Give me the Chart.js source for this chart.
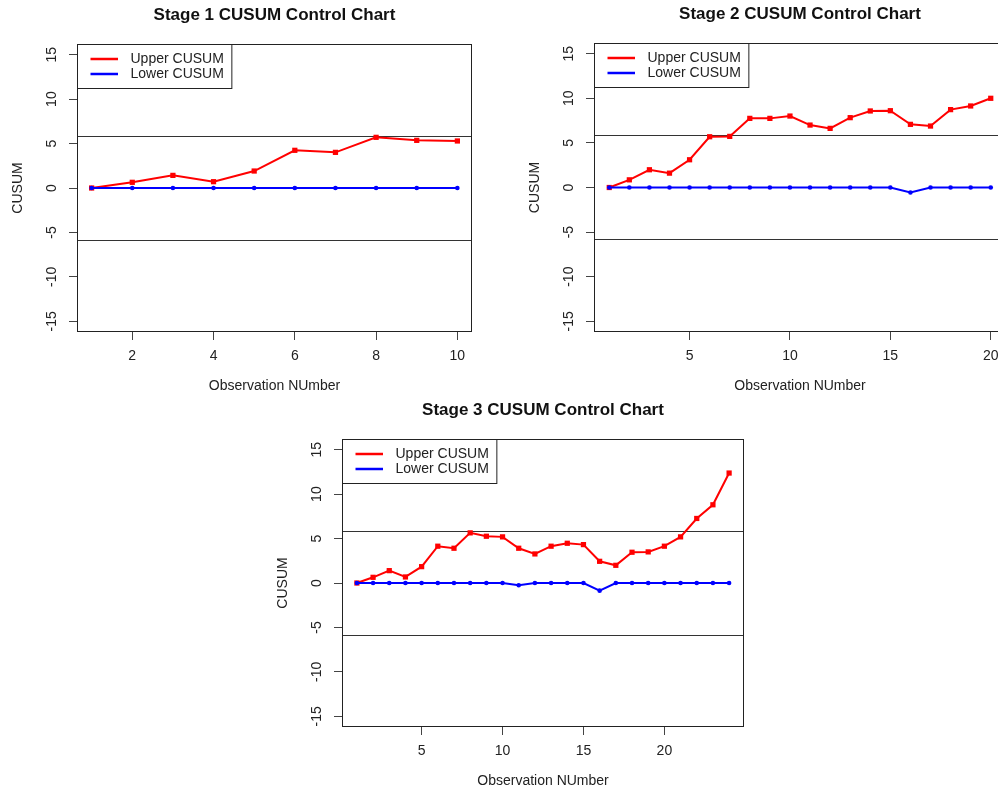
<!DOCTYPE html>
<html>
<head>
<meta charset="utf-8">
<script src="https://cdn.jsdelivr.net/npm/chart.js@4.4.1/dist/chart.umd.min.js"></script>
<style>
  html, body { margin: 0; padding: 0; background: #fff; overflow: hidden; width: 998px; height: 789px; }
  canvas { position: absolute; }
</style>
</head>
<body>
<canvas id="stage1"></canvas>
<canvas id="stage2"></canvas>
<canvas id="stage3"></canvas>
<script>
// ---- data ----
const yTicks = [-15, -10, -5, 0, 5, 10, 15];

const stage1Obs    = [1, 2, 3, 4, 5, 6, 7, 8, 9, 10];
const stage1Upper  = [0, 0.64, 1.42, 0.71, 1.91, 4.24, 4.01, 5.70, 5.36, 5.29];
const stage1Lower  = [0, 0, 0, 0, 0, 0, 0, 0, 0, 0];
const stage1Limits = [5.88, -5.82];
const stage1XTicks = [2, 4, 6, 8, 10];

const stage2Obs    = [1, 2, 3, 4, 5, 6, 7, 8, 9, 10, 11, 12, 13, 14, 15, 16, 17, 18, 19, 20];
const stage2Upper  = [0, 0.86, 1.99, 1.61, 3.11, 5.69, 5.73, 7.75, 7.75, 8.01, 7.00, 6.63, 7.83, 8.58, 8.61, 7.08, 6.89, 8.73, 9.14, 10.0];
const stage2Lower  = [0, 0, 0, 0, 0, 0, 0, 0, 0, 0, 0, 0, 0, 0, 0, -0.56, 0, 0, 0, 0];
const stage2Limits = [5.84, -5.80];
const stage2XTicks = [5, 10, 15, 20];

const stage3Obs    = [1, 2, 3, 4, 5, 6, 7, 8, 9, 10, 11, 12, 13, 14, 15, 16, 17, 18, 19, 20, 21, 22, 23, 24];
const stage3Upper  = [0, 0.64, 1.39, 0.68, 1.84, 4.14, 3.91, 5.64, 5.26, 5.19, 3.91, 3.27, 4.14, 4.47, 4.32, 2.44, 1.99, 3.46, 3.50, 4.14, 5.19, 7.26, 8.80, 12.37];
const stage3Lower  = [0, 0, 0, 0, 0, 0, 0, 0, 0, 0, -0.26, 0, 0, 0, 0, -0.86, 0, 0, 0, 0, 0, 0, 0, 0];
const stage3Limits = [5.90, -5.80];
const stage3XTicks = [5, 10, 15, 20];

const FONT = "'Liberation Sans', Arial, sans-serif";
const TEXT = '#222';
const Y_AXIS_W = 75, TOP_H = 44, X_AXIS_H = 65;

// horizontal control limits + plot frame
const framePlugin = {
  id: 'frame',
  beforeDatasetsDraw(chart, args, opts) {
    const { ctx, chartArea: a, scales: { y } } = chart;
    ctx.save();
    ctx.strokeStyle = '#333';
    ctx.lineWidth = 1;
    opts.limits.forEach(h => {
      const py = Math.round(y.getPixelForValue(h)) + 0.5;
      ctx.beginPath();
      ctx.moveTo(a.left, py);
      ctx.lineTo(a.right, py);
      ctx.stroke();
    });
    ctx.restore();
  },
  afterDraw(chart) {
    const { ctx, chartArea: a } = chart;
    ctx.save();
    ctx.strokeStyle = '#222';
    ctx.lineWidth = 1;
    ctx.strokeRect(a.left + 0.5, a.top + 0.5, a.right - a.left - 1, a.bottom - a.top - 1);
    ctx.restore();
  }
};

// R style legend box in the top left corner of the plot
const boxLegend = {
  id: 'boxLegend',
  afterDatasetsDraw(chart) {
    const { ctx, chartArea: a } = chart;
    const sets = chart.data.datasets;
    ctx.save();
    ctx.font = '14px ' + FONT;
    const textX = a.left + 53.5;
    const widest = Math.max(...sets.map(d => ctx.measureText(d.label).width));
    const w = textX - a.left + widest + 7.5;
    ctx.fillStyle = '#fff';
    ctx.fillRect(a.left, a.top, w, 44);
    ctx.strokeStyle = '#222';
    ctx.lineWidth = 1;
    ctx.strokeRect(a.left + 0.5, a.top + 0.5, w, 44);
    sets.forEach((d, i) => {
      const ly = a.top + 15 + i * 15;
      ctx.strokeStyle = d.borderColor;
      ctx.lineWidth = 2.5;
      ctx.beginPath();
      ctx.moveTo(a.left + 13.5, ly);
      ctx.lineTo(a.left + 41, ly);
      ctx.stroke();
      ctx.fillStyle = TEXT;
      ctx.textBaseline = 'middle';
      ctx.fillText(d.label, textX, ly);
    });
    ctx.restore();
  }
};

function makeChart(id, plot, title, obs, upper, lower, limits, xRange, xTicks) {
  const cv = document.getElementById(id);
  // chart.js leaves ~4px on the right, so the canvas gets that back
  const w = plot.right - plot.left + Y_AXIS_W + 5;
  const h = plot.bottom - plot.top + TOP_H + X_AXIS_H;
  cv.width = w; cv.height = h;
  cv.style.left = (plot.left - Y_AXIS_W) + 'px';
  cv.style.top = (plot.top - TOP_H) + 'px';
  cv.style.width = w + 'px'; cv.style.height = h + 'px';

  return new Chart(cv, {
    type: 'line',
    data: {
      datasets: [
        {
          label: 'Upper CUSUM',
          data: obs.map((x, i) => ({ x, y: upper[i] })),
          borderColor: '#ff0000',
          backgroundColor: '#ff0000',
          borderWidth: 2,
          pointStyle: 'rect',
          pointRadius: 3.7,
          pointBorderWidth: 0,
          tension: 0,
          order: 1
        },
        {
          label: 'Lower CUSUM',
          data: obs.map((x, i) => ({ x, y: lower[i] })),
          borderColor: '#0000ff',
          backgroundColor: '#0000ff',
          borderWidth: 2,
          pointStyle: 'circle',
          pointRadius: 2.3,
          pointBorderWidth: 0,
          tension: 0,
          order: 0
        }
      ]
    },
    options: {
      responsive: false,
      animation: false,
      layout: { padding: { left: 0, top: 0, right: 1, bottom: 0 } },
      plugins: {
        legend: { display: false },
        tooltip: { enabled: false },
        title: {
          display: true,
          text: title,
          fullSize: false,
          color: '#111',
          font: { family: FONT, size: 17, weight: 'bold' },
          padding: { top: 5.6, bottom: 18 }
        },
        frame: { limits }
      },
      scales: {
        x: {
          type: 'linear',
          min: xRange[0],
          max: xRange[1],
          afterBuildTicks: s => { s.ticks = xTicks.map(v => ({ value: v })); },
          afterFit: s => { s.height = X_AXIS_H; },
          border: { display: false },
          grid: { drawOnChartArea: false, drawTicks: true, tickLength: 8, color: '#444' },
          ticks: { color: TEXT, font: { family: FONT, size: 14 }, padding: 8, maxRotation: 0, autoSkip: false },
          title: { display: true, text: 'Observation NUmber', color: TEXT, font: { family: FONT, size: 14 }, padding: { top: 0, bottom: 2 } }
        },
        y: {
          min: -16.2,
          max: 16.2,
          afterBuildTicks: s => { s.ticks = yTicks.map(v => ({ value: v })); },
          afterFit: s => { s.width = Y_AXIS_W; },
          border: { display: false },
          grid: { drawOnChartArea: false, drawTicks: true, tickLength: 8, color: '#444' },
          ticks: { color: TEXT, font: { family: FONT, size: 14 }, padding: 6.5, minRotation: 90, maxRotation: 90, crossAlign: 'center', autoSkip: false },
          title: { display: true, text: 'CUSUM', color: TEXT, font: { family: FONT, size: 14 }, padding: { top: 7.5, bottom: 0 } }
        }
      }
    },
    plugins: [framePlugin, boxLegend]
  });
}

makeChart('stage1', { left: 77, top: 44, right: 471, bottom: 332 },
  'Stage 1 CUSUM Control Chart', stage1Obs, stage1Upper, stage1Lower, stage1Limits, [0.64, 10.36], stage1XTicks);
makeChart('stage2', { left: 594, top: 43, right: 1005, bottom: 332 },
  'Stage 2 CUSUM Control Chart', stage2Obs, stage2Upper, stage2Lower, stage2Limits, [0.24, 20.76], stage2XTicks);
makeChart('stage3', { left: 342, top: 439, right: 743, bottom: 727 },
  'Stage 3 CUSUM Control Chart', stage3Obs, stage3Upper, stage3Lower, stage3Limits, [0.08, 24.92], stage3XTicks);
</script>
</body>
</html>
